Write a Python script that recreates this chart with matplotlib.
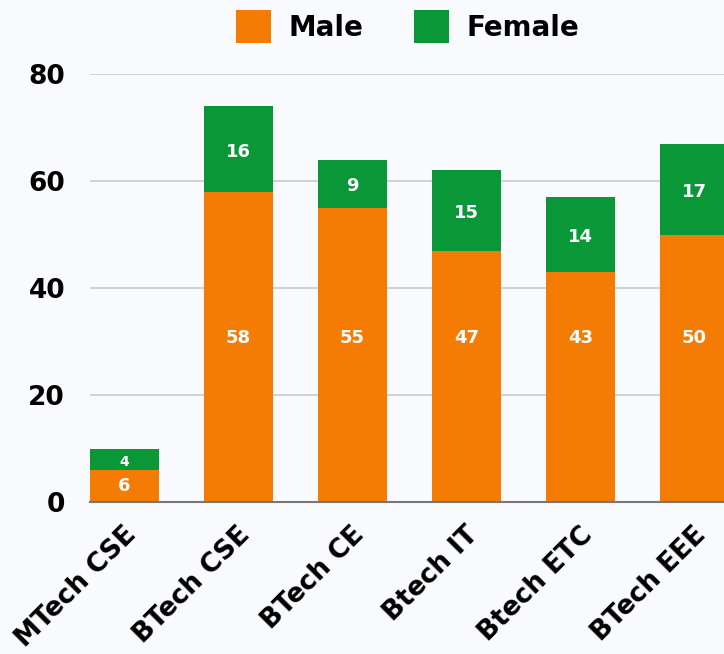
import numpy as np
import matplotlib.pyplot as plt
from matplotlib.transforms import ScaledTranslation

courses = ['MTech CSE', 'BTech CSE', 'BTech CE', 'Btech IT', 'Btech ETC', 'BTech EEE']
male = [6, 58, 55, 47, 43, 50]
female = [4, 16, 9, 15, 14, 17]

ORANGE = '#F57C04'
GREEN = '#0A9738'
BG = '#F8FAFD'

plt.rcParams['font.family'] = ['DejaVu Sans']

fig = plt.figure(figsize=(7.24, 6.54), dpi=100, facecolor=BG)
ax = fig.add_axes([90 / 724, (654 - 502) / 654, 1 - 90 / 724, (502 - 74) / 654])
ax.set_facecolor(BG)

x = np.arange(len(courses))
b1 = ax.bar(x, male, width=0.605, color=ORANGE, label='Male', zorder=3)
b2 = ax.bar(x, female, width=0.605, bottom=male, color=GREEN, label='Female', zorder=3)

# value labels (male labels sit at a common height on the tall bars)
for i in range(len(courses)):
    ym = male[i] / 2 if male[i] < 20 else 30.6
    ax.text(x[i], ym, str(male[i]), ha='center', va='center',
            color='white', fontsize=13, fontweight='bold', zorder=4)
    fs = 13 if female[i] > 6 else 10
    ax.text(x[i], male[i] + female[i] / 2 - 0.5, str(female[i]), ha='center', va='center',
            color='white', fontsize=fs, fontweight='bold', zorder=4)

ax.set_xlim(-0.3025, 5.259)
ax.set_ylim(0, 80)
ax.set_yticks([0, 20, 40, 60, 80])
ax.grid(axis='y', color='#c9cbcf', linewidth=1.2, zorder=0)
for s in ['top', 'right', 'left']:
    ax.spines[s].set_visible(False)
ax.spines['bottom'].set_color('#777777')
ax.spines['bottom'].set_linewidth(1.5)
ax.spines['bottom'].set_zorder(5)
ax.tick_params(axis='both', length=0, labelsize=19)
ax.tick_params(axis='y', pad=18)
for lbl in ax.get_yticklabels():
    lbl.set_fontweight('bold')

ax.set_xticks(x)
ax.set_xticklabels(courses, rotation=45, ha='right', va='center',
                   rotation_mode='anchor', fontsize=19, fontweight='bold')
ax.tick_params(axis='x', pad=0)
shift = ScaledTranslation(0.08, -0.29, fig.dpi_scale_trans)
for lbl in ax.get_xticklabels():
    lbl.set_transform(lbl.get_transform() + shift)

fig.legend(handles=[b1, b2], loc='upper center', bbox_to_anchor=(0.563, 0.997),
           ncol=2, frameon=False, prop={'weight': 'bold', 'size': 20},
           handlelength=1.26, handleheight=1.45, columnspacing=1.8,
           handletextpad=0.65, borderaxespad=0.1, borderpad=0.2)

fig.savefig('out.png', dpi=100, facecolor=BG)
